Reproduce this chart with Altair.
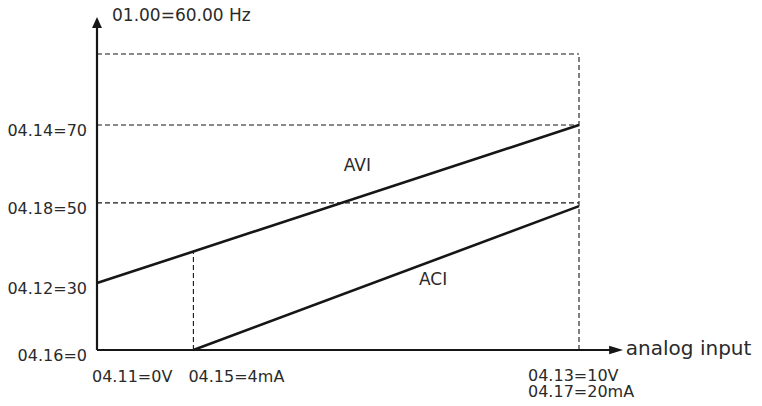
import altair as alt
import pandas as pd

# ---- data (x: 0..10 V scale, y: % of 60 Hz top line) ----
avi_x = [0, 10]
avi_y = [22.6, 76.0]
aci_x = [2, 10]
aci_y = [0, 48.6]

level_y = [100, 76.0, 49.7]          # dashed horizontal guides
level_labels = ["04.14=70", "04.18=50", "04.12=30", "04.16=0"]
level_label_y = [76.0, 49.7, 22.6, 0]

vguide_x = [2, 10]                   # dashed vertical guides
vguide_top = [33.1, 100]

bottom_labels = ["04.11=0V", "04.15=4mA"]
bottom_label_x = [0, 2]
right_labels = ["04.13=10V", "04.17=20mA"]

series_names = ["AVI", "ACI"]
series_label_x = [5.12, 6.68]
series_label_y = [60.5, 22.0]

y_axis_top = 112.5
x_axis_end = 10.91
top_label = "01.00=60.00 Hz"
x_title = "analog input"

INK = "#161616"
TXT = "#2a2a2a"
FONT = "DejaVu Sans"

xs = alt.Scale(domain=[0, 10], range=[89, 571])
ys = alt.Scale(domain=[0, 100], range=[342, 46])
X = lambda f: alt.X(f, type="quantitative", scale=xs, axis=None)
Y = lambda f: alt.Y(f, type="quantitative", scale=ys, axis=None)

lines_df = pd.DataFrame({
    "x": avi_x + aci_x,
    "y": avi_y + aci_y,
    "s": ["AVI"] * len(avi_x) + ["ACI"] * len(aci_x),
})
lines = alt.Chart(lines_df).mark_line(color=INK, strokeWidth=2.6).encode(
    x=X("x"), y=Y("y"), detail="s:N")

hdf = pd.DataFrame({"y": level_y, "x0": [0] * len(level_y), "x1": [10] * len(level_y)})
hguides = alt.Chart(hdf).mark_rule(color=INK, strokeWidth=1.1, strokeDash=[5, 3]).encode(
    x=X("x0"), x2="x1:Q", y=Y("y"))

vdf = pd.DataFrame({"x": vguide_x, "y0": [0] * len(vguide_x), "y1": vguide_top})
vguides = alt.Chart(vdf).mark_rule(color=INK, strokeWidth=1.1, strokeDash=[5, 3]).encode(
    x=X("x"), y=Y("y0"), y2="y1:Q")

yaxis_df = pd.DataFrame({"x": [0], "y0": [0], "y1": [y_axis_top - 3]})
yaxis = alt.Chart(yaxis_df).mark_rule(color=INK, strokeWidth=2.2).encode(
    x=X("x"), y=Y("y0"), y2="y1:Q")
xaxis_df = pd.DataFrame({"y": [0], "x0": [0], "x1": [x_axis_end - 0.2]})
xaxis = alt.Chart(xaxis_df).mark_rule(color=INK, strokeWidth=2.2).encode(
    x=X("x0"), x2="x1:Q", y=Y("y"))

up_df = pd.DataFrame({"x": [0], "y": [y_axis_top - 1.9]})
up_arrow = alt.Chart(up_df).mark_point(
    shape="M0,-1L-0.9,1L0.9,1Z", filled=True, size=121, color=INK, opacity=1,
    strokeWidth=0).encode(x=X("x"), y=Y("y"))
right_df = pd.DataFrame({"x": [x_axis_end - 0.14], "y": [0]})
right_arrow = alt.Chart(right_df).mark_point(
    shape="M1,0L-1,-0.62L-1,0.62Z", filled=True, size=196, color=INK, opacity=1,
    strokeWidth=0).encode(x=X("x"), y=Y("y"))

left_df = pd.DataFrame({"t": level_labels, "y": level_label_y, "x": [0] * len(level_labels)})
left_text = alt.Chart(left_df).mark_text(
    align="right", baseline="alphabetic", dx=-10, dy=11, font=FONT, fontSize=16, color=TXT
).encode(x=X("x"), y=Y("y"), text="t:N")

bot_df = pd.DataFrame({"t": bottom_labels, "x": bottom_label_x, "y": [0] * len(bottom_labels)})
bot_text = alt.Chart(bot_df).mark_text(
    align="left", baseline="alphabetic", dx=-5, dy=32, font=FONT, fontSize=16, color=TXT
).encode(x=X("x"), y=Y("y"), text="t:N")

r_df = pd.DataFrame({"t": right_labels, "x": [10] * len(right_labels), "y": [0] * len(right_labels)})
r_text1 = alt.Chart(r_df.iloc[[0]]).mark_text(
    align="left", baseline="alphabetic", dx=-51, dy=31, font=FONT, fontSize=16, color=TXT
).encode(x=X("x"), y=Y("y"), text="t:N")
r_text2 = alt.Chart(r_df.iloc[[1]]).mark_text(
    align="left", baseline="alphabetic", dx=-51, dy=47, font=FONT, fontSize=16, color=TXT
).encode(x=X("x"), y=Y("y"), text="t:N")

s_df = pd.DataFrame({"t": series_names, "x": series_label_x, "y": series_label_y})
s_text = alt.Chart(s_df).mark_text(
    align="left", baseline="alphabetic", font=FONT, fontSize=17, color=TXT
).encode(x=X("x"), y=Y("y"), text="t:N")

top_df = pd.DataFrame({"t": [top_label], "x": [0], "y": [y_axis_top]})
top_text = alt.Chart(top_df).mark_text(
    align="left", baseline="alphabetic", dx=15, dy=4, font=FONT, fontSize=17, color=TXT
).encode(x=X("x"), y=Y("y"), text="t:N")

xt_df = pd.DataFrame({"t": [x_title], "x": [x_axis_end], "y": [0]})
xt_text = alt.Chart(xt_df).mark_text(
    align="left", baseline="alphabetic", dx=3, dy=5, font=FONT, fontSize=20, color=TXT
).encode(x=X("x"), y=Y("y"), text="t:N")

chart = alt.layer(
    hguides, vguides, lines, yaxis, xaxis, up_arrow, right_arrow,
    left_text, bot_text, r_text1, r_text2, s_text, top_text, xt_text
).properties(
    width=746, height=398, padding=0,
    autosize=alt.AutoSizeParams(type="none"),
    background="white",
).configure_view(stroke=None)

chart.save("out.html", embed_options={"renderer": "svg", "actions": False})
